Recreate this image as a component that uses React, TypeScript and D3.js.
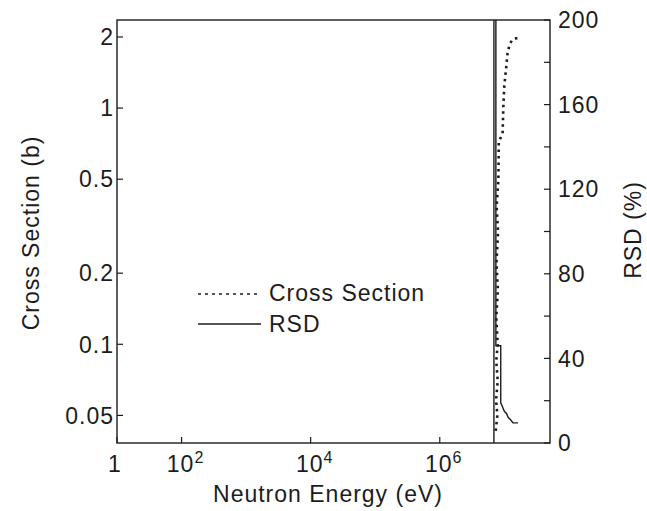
import React from 'react';
import * as d3 from 'd3';

// cross section (b) vs neutron energy (eV) — dotted curve
const csEnergy = [7.35e6, 7.8e6, 7.45e6, 7.9e6, 7.5e6, 7.9e6, 7.5e6, 7.95e6, 7.55e6, 8.0e6, 7.6e6, 8.1e6, 8.2e6, 9.4e6, 9.7e6, 1.0e7, 1.06e7, 1.12e7, 1.2e7, 1.3e7, 1.45e7, 1.65e7];
const csValue = [0.043, 0.05, 0.058, 0.07, 0.085, 0.1, 0.13, 0.17, 0.22, 0.3, 0.38, 0.5, 0.72, 0.78, 1.05, 1.25, 1.45, 1.7, 1.85, 1.93, 1.97, 1.98];

// relative standard deviation (%) — solid step curve
const rsdEnergy = [6.9e6, 6.9e6, 7.4e6, 7.4e6, 8.8e6, 8.8e6, 9.4e6, 1.0e7, 1.08e7, 1.15e7, 1.25e7, 1.36e7, 1.63e7];
const rsdValue = [0, 300, 300, 46, 46, 19, 17, 15, 14, 12, 11, 9.5, 9.5];

const xTicks = [10, 1e2, 1e4, 1e6];
const xTickLabels = [['1', ''], ['10', '2'], ['10', '4'], ['10', '6']];
const yLeftTicks = [2, 1, 0.5, 0.2, 0.1, 0.05];
const yLeftLabels = ['2', '1', '0.5', '0.2', '0.1', '0.05'];
const yRightTicks = d3.range(0, 201, 20);
const yRightLabels = [0, 40, 80, 120, 160, 200];

const W = 647;
const H = 511;
const left = 117;
const right = 550;
const top = 20;
const bottom = 443;
const ink = '#1c1c1c';
const font = '"Liberation Sans", Arial, sans-serif';
const fs = 23;

export default function App() {
  const x = d3.scaleLog().domain([10, 5.1e7]).range([left, right]);
  const yL = d3.scaleLog().domain([0.0382, 2.36]).range([bottom, top]);
  const yR = d3.scaleLinear().domain([0, 200]).range([bottom, top]);

  const csLine = d3.line<number>()
    .x((d, i) => x(csEnergy[i]))
    .y(d => yL(d));
  const rsdLine = d3.line<number>()
    .x((d, i) => x(rsdEnergy[i]))
    .y(d => yR(d));

  return (
    <svg width={W} height={H} style={{ position: 'absolute', left: 0, top: 0, background: '#fff' }}
      fontFamily={font} letterSpacing={1}>
      <defs>
        <clipPath id="plot">
          <rect x={left} y={top} width={right - left} height={bottom - top} />
        </clipPath>
      </defs>

      <rect x={left} y={top} width={right - left} height={bottom - top}
        fill="none" stroke={ink} strokeWidth={1.4} />

      {/* left axis ticks */}
      {yLeftTicks.map((t, i) => (
        <g key={'yl' + t}>
          <line x1={left} x2={left + 6} y1={yL(t)} y2={yL(t)} stroke={ink} strokeWidth={1.2} />
          <text x={left - 3} y={yL(t)} dy="0.36em" textAnchor="end" fontSize={fs} fill={ink}>{yLeftLabels[i]}</text>
        </g>
      ))}

      {/* right axis ticks */}
      {yRightTicks.map(t => (
        <line key={'yr' + t} x1={right - 6} x2={right} y1={yR(t)} y2={yR(t)} stroke={ink} strokeWidth={1.2} />
      ))}
      {yRightLabels.map(t => (
        <text key={'yrl' + t} x={right + 8} y={yR(t)} dy="0.36em" textAnchor="start" fontSize={fs} fill={ink}>{t}</text>
      ))}

      {/* bottom axis ticks */}
      {xTicks.map((t, i) => (
        <g key={'x' + t}>
          <line x1={x(t)} x2={x(t)} y1={bottom} y2={bottom - 6} stroke={ink} strokeWidth={1.2} />
          <text x={x(t) - (i === 0 ? 2 : -4)} y={472} textAnchor="middle" fontSize={fs} fill={ink}>
            {xTickLabels[i][0]}
            {xTickLabels[i][1] && <tspan dy={-9} fontSize={16}>{xTickLabels[i][1]}</tspan>}
          </text>
        </g>
      ))}

      {/* axis titles */}
      <text x={328} y={502} textAnchor="middle" fontSize={fs} fill={ink}>Neutron Energy (eV)</text>
      <text transform={`translate(39,${233}) rotate(-90)`} textAnchor="middle" fontSize={fs} fill={ink}>Cross Section (b)</text>
      <text transform={`translate(641,${230}) rotate(-90)`} textAnchor="middle" fontSize={fs} fill={ink}>RSD (%)</text>

      <g clipPath="url(#plot)">
        <path d={csLine(csValue) || ''} fill="none" stroke={ink} strokeWidth={2.6} strokeDasharray="2.5,4" />
        <path d={rsdLine(rsdValue) || ''} fill="none" stroke={ink} strokeWidth={1.4} />
      </g>

      {/* legend */}
      <line x1={198} x2={261} y1={294} y2={294} stroke={ink} strokeWidth={1.3} strokeDasharray="3,4" />
      <text x={269} y={301} fontSize={fs} fill={ink}>Cross Section</text>
      <line x1={198} x2={261} y1={324} y2={324} stroke={ink} strokeWidth={1.3} />
      <text x={269} y={332} fontSize={fs} fill={ink}>RSD</text>
    </svg>
  );
}
